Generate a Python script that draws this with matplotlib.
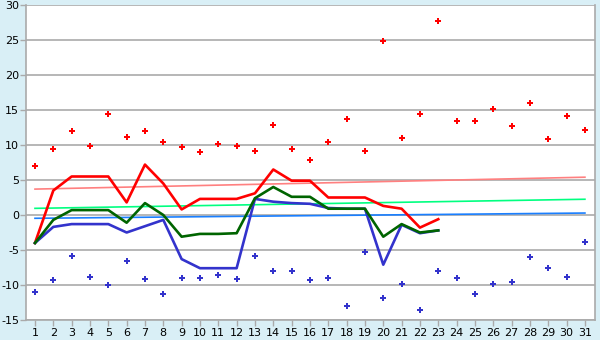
import matplotlib
matplotlib.use("Agg")
import matplotlib.pyplot as plt
import numpy as np

plt.rcParams["axes.unicode_minus"] = False

days = list(range(1, 32))
max_pts = [7.0, 9.4, 12.0, 9.8, 14.5, 11.2, 12.0, 10.4, 9.7, 9.0, 10.2, 9.8, 9.2, 12.8, 9.4,
           7.8, 10.4, 13.7, 9.2, 24.8, 11.0, 14.4, 27.7, 13.5, 13.4, 15.2, 12.7, 16.0, 10.8, 14.2, 12.2]
min_pts = [-11.0, -9.3, -5.8, -8.9, -10.0, -6.5, -9.2, -11.3, -9.0, -9.0, -8.6, -9.2, -5.8, -8.0, -8.0,
           -9.3, -9.0, -13.0, -5.3, -11.8, -9.8, -13.6, -8.0, -9.0, -11.3, -9.8, -9.6, -6.0, -7.5, -8.9, -3.8]

line_days = list(range(1, 24))
red_line = [-4.0, 3.5, 5.5, 5.5, 5.5, 1.8, 7.2, 4.5, 0.8, 2.3, 2.3, 2.3, 3.1, 6.5, 4.9, 4.9,
            2.5, 2.5, 2.5, 1.3, 0.9, -1.8, -0.6]
green_line = [-4.0, -0.7, 0.7, 0.7, 0.7, -1.1, 1.7, 0.0, -3.1, -2.7, -2.7, -2.6, 2.4, 4.0, 2.6, 2.6,
              0.9, 0.9, 0.9, -3.1, -1.3, -2.5, -2.2]
blue_line = [-4.0, -1.7, -1.3, -1.3, -1.3, -2.5, -1.6, -0.7, -6.3, -7.6, -7.6, -7.6, 2.3, 1.9, 1.7, 1.6,
             1.0, 0.9, 0.9, -7.1, -1.4, -2.6, -2.2]

trend_days = [1, 31]
trend_red = [3.7, 5.4]
trend_green = [0.95, 2.25]
trend_blue = [-0.47, 0.28]

y_ticks = list(range(-15, 31, 5))

bg = "#D9EFF6"
grid = "#AAAAAA"

fig = plt.figure(figsize=(6, 3.4), dpi=100, facecolor=bg)
ax = fig.add_axes([26/600, 20/340, 569/600, 315/340])
ax.set_facecolor("white")

for yv in y_ticks:
    ax.axhline(yv, color=grid, lw=1.2, zorder=1)

ax.plot(trend_days, trend_red, color="#FF8080", lw=1.2, zorder=2)
ax.plot(trend_days, trend_green, color="#00FF80", lw=1.2, zorder=2)
ax.plot(trend_days, trend_blue, color="#1A7FFF", lw=1.2, zorder=2)

ax.plot(line_days, red_line, color="#FF0000", lw=1.9, zorder=3)
ax.plot(line_days, blue_line, color="#3333CC", lw=1.9, zorder=3)
ax.plot(line_days, green_line, color="#006400", lw=1.9, zorder=4)

ax.plot(days, max_pts, linestyle="none", marker="P", ms=5, color="#FF0000", mew=0, zorder=5)
ax.plot(days, min_pts, linestyle="none", marker="P", ms=5, color="#3333CC", mew=0, zorder=5)

ax.set_xlim(0.51, 31.55)
ax.set_ylim(-15, 30)
ax.set_yticks(y_ticks)
ax.set_xticks(days)
ax.set_xticklabels([str(d) for d in days])

ax.spines["top"].set_visible(False)
for s in ["left", "right", "bottom"]:
    ax.spines[s].set_color(grid)
    ax.spines[s].set_linewidth(1.2)

ax.tick_params(axis="both", colors=grid, labelcolor="black", labelsize=8, length=4, width=1)
ax.tick_params(axis="x", pad=2)
ax.tick_params(axis="y", pad=1)

fig.savefig("out.png", dpi=100, facecolor=bg)
